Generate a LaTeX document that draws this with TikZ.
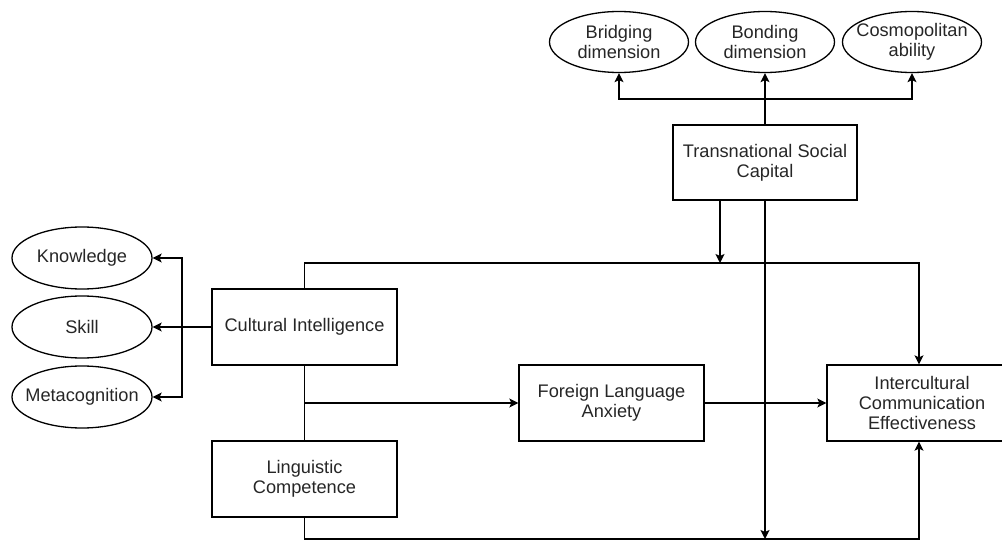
\documentclass[tikz,border=0pt]{standalone}
\usepackage{fontspec}
\setmainfont{Liberation Sans}
\usetikzlibrary{arrows.meta,shapes.geometric}
\tikzset{
  box/.style={draw, line width=1.3pt, minimum width=185pt, minimum height=76pt, align=center, text=black!85, font=\fontsize{18.2}{19.8}\selectfont},
  oval/.style={draw, ellipse, line width=1.3pt, minimum width=139pt, minimum height=61pt, inner xsep=-16pt, inner ysep=0pt, align=center, text=black!85, font=\fontsize{18.2}{19.8}\selectfont},
  arr/.style={line width=1.3pt, -{Stealth[length=9pt,width=9pt,inset=2pt]}},
  link/.style={line width=1.3pt}
}
\begin{document}
\begin{tikzpicture}[x=1pt,y=-1pt]
\useasboundingbox (0,0) rectangle (1002,540);
\node[oval] (bridging) at (619,42) {Bridging\\dimension};
\node[oval] (bonding) at (765,42) {Bonding\\dimension};
\node[oval] (cosmo) at (912,42) {Cosmopolitan\\ability};
\node[box, minimum width=184pt, minimum height=75pt] (tsc) at (765,162.5) {Transnational Social\\Capital};
\node[oval, minimum width=140pt, minimum height=62pt] (knowledge) at (82,258) {Knowledge};
\node[oval, minimum width=140pt, minimum height=62pt] (skill) at (82,327) {Skill};
\node[oval, minimum width=140pt, minimum height=62pt] (meta) at (82,397) {Metacognition};
\node[box] (ci) at (304.5,327) {Cultural Intelligence};
\node[box] (lc) at (304.5,479) {Linguistic\\Competence};
\node[box] (fla) at (611.5,403) {Foreign Language\\Anxiety};
\node[box, minimum width=190pt] (ice) at (922,403) {Intercultural\\Communication\\Effectiveness};
\coordinate (fork) at (765,99);
\coordinate (split) at (182,327);
\coordinate (mod) at (720,263);
\coordinate (upper) at (919,263);
\coordinate (lower) at (919,539);
\coordinate (base) at (765,539);
\draw[arr] (tsc.north) -- (bonding.south);
\draw[arr] (fork) -| (bridging);
\draw[arr] (fork) -| (cosmo);
\draw[arr] (ci) -- (skill);
\draw[arr] (split) |- (knowledge);
\draw[arr] (split) |- (meta);
\draw[arr] (ci.north) |- (upper) -- (upper |- ice.north);
\draw[arr] (tsc.south -| mod) -- (mod);
\draw[arr] (tsc.south) -- (base);
\draw[link] (ci) -- (lc);
\draw[arr] (ci.south |- fla.west) -- (fla.west);
\draw[arr] (fla) -- (ice);
\draw[arr] (lc.south) |- (lower) -- (lower |- ice.south);
\end{tikzpicture}
\end{document}
